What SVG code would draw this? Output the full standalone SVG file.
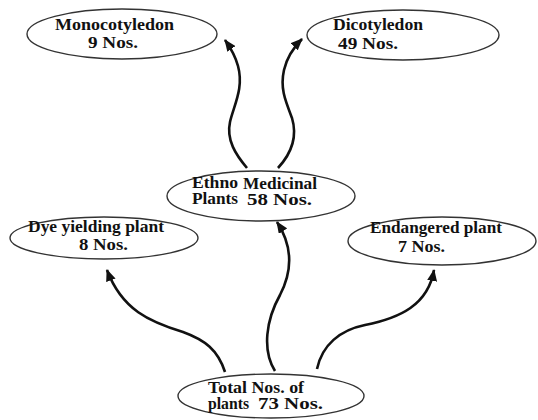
<svg xmlns="http://www.w3.org/2000/svg" width="538" height="420" viewBox="0 0 538 420">
<style>
.node ellipse{fill:#fff;stroke:#333;stroke-width:1.4}
.node text{font-family:"Liberation Serif","Times New Roman",serif;font-weight:bold;font-size:16px;fill:#111}
.conn path{fill:none;stroke:#111;stroke-width:2.6}
</style>
<defs>
<marker id="ah" markerUnits="userSpaceOnUse" markerWidth="12" markerHeight="10" refX="11" refY="5" orient="auto">
<path d="M0,0 L12,5 L0,10 z" fill="#111"/>
</marker>
</defs>
<rect width="538" height="420" fill="#fff"/>
<g id="connectors" class="conn">
<path d="M247,168 C236,155 226,140 230,122 C234,105 244,88 238,66 C235,55 230,47 225,40" marker-end="url(#ah)"/>
<path d="M278,168 C290,155 298,138 292,118 C285,100 280,88 284,70 C287,57 294,47 302,39" marker-end="url(#ah)"/>
<path d="M225,372 C218,350 205,340 183,332 C150,322 122,310 107,270" marker-end="url(#ah)"/>
<path d="M275,371 C262,350 266,320 280,295 C293,270 292,245 277,222" marker-end="url(#ah)"/>
<path d="M317,369 C322,345 340,330 365,325 C400,318 428,305 434,270" marker-end="url(#ah)"/>
</g>
<g id="monocotyledon" class="node">
<ellipse cx="122" cy="34" rx="95" ry="25"/>
<text x="55" y="30" textLength="119" lengthAdjust="spacingAndGlyphs">Monocotyledon</text>
<text x="88" y="48" textLength="50" lengthAdjust="spacingAndGlyphs">9 Nos.</text>
</g>
<g id="dicotyledon" class="node">
<ellipse cx="403" cy="35" rx="96" ry="25"/>
<text x="333" y="30" textLength="90" lengthAdjust="spacingAndGlyphs">Dicotyledon</text>
<text x="338" y="49" textLength="60" lengthAdjust="spacingAndGlyphs">49 Nos.</text>
</g>
<g id="ethno" class="node">
<ellipse cx="261" cy="196" rx="94" ry="25"/>
<text x="192" y="188" textLength="46" lengthAdjust="spacingAndGlyphs">Ethno</text>
<text x="243" y="189" textLength="74" lengthAdjust="spacingAndGlyphs">Medicinal</text>
<text x="192" y="204" textLength="46" lengthAdjust="spacingAndGlyphs">Plants</text>
<text x="247" y="205" textLength="65" lengthAdjust="spacingAndGlyphs">58 Nos.</text>
</g>
<g id="dye" class="node">
<ellipse cx="104" cy="238" rx="94" ry="21"/>
<text x="28" y="232" textLength="136" lengthAdjust="spacingAndGlyphs">Dye yielding plant</text>
<text x="79" y="250" textLength="49" lengthAdjust="spacingAndGlyphs">8 Nos.</text>
</g>
<g id="endangered" class="node">
<ellipse cx="442" cy="241" rx="94" ry="24"/>
<text x="370" y="233" textLength="132" lengthAdjust="spacingAndGlyphs">Endangered plant</text>
<text x="398" y="252" textLength="47" lengthAdjust="spacingAndGlyphs">7 Nos.</text>
</g>
<g id="total" class="node">
<ellipse cx="271" cy="396" rx="93" ry="22"/>
<text x="208" y="393" textLength="96" lengthAdjust="spacingAndGlyphs">Total Nos. of</text>
<text x="208" y="409" textLength="41" lengthAdjust="spacingAndGlyphs">plants</text>
<text x="258" y="409" textLength="65" lengthAdjust="spacingAndGlyphs">73 Nos.</text>
</g>
</svg>
